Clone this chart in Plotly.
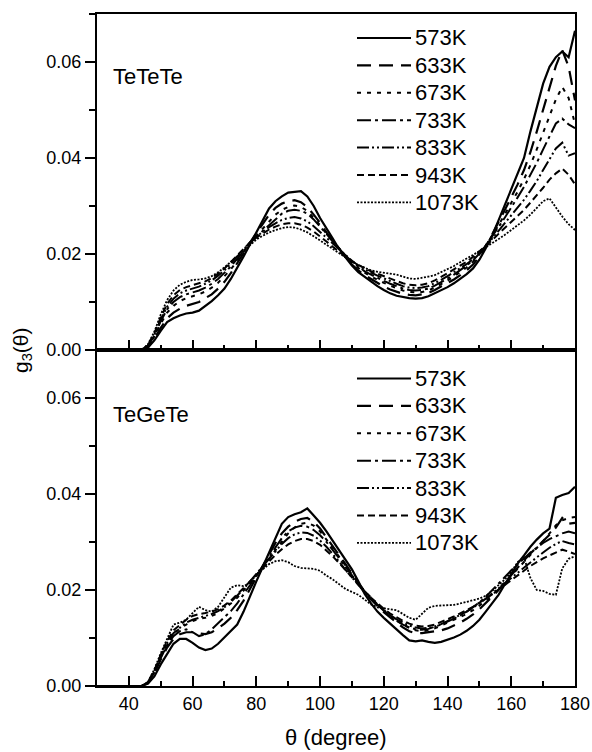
import plotly.graph_objects as go

theta = [30, 44, 46, 48, 50, 52, 54, 56, 58, 60,
         62, 64, 66, 68, 70, 72, 74, 76, 78, 80,
         82, 84, 86, 88, 90, 92, 94, 96, 98, 100,
         102, 104, 106, 108, 110, 112, 114, 116, 118, 120,
         122, 124, 126, 128, 130, 132, 134, 136, 138, 140,
         142, 144, 146, 148, 150, 152, 154, 156, 158, 160,
         162, 164, 166, 168, 170, 172, 174, 176, 178, 180]

temps = ["573K", "633K", "673K", "733K", "833K", "943K", "1073K"]

# ---- TeTeTe (top panel) ----
tetete_573 = [0, 0, 0.0005, 0.002, 0.004, 0.0058, 0.0066, 0.0072, 0.0076, 0.0078,
              0.0082, 0.0092, 0.0102, 0.0114, 0.0128, 0.0148, 0.017, 0.0195, 0.022, 0.0245,
              0.027, 0.0295, 0.031, 0.032, 0.0328, 0.033, 0.0331, 0.032, 0.03, 0.0275,
              0.0252, 0.0232, 0.021, 0.0192, 0.0176, 0.0162, 0.0152, 0.0143, 0.0133, 0.0125,
              0.0118, 0.0113, 0.011, 0.0108, 0.0107, 0.0108, 0.0112, 0.0118, 0.0125, 0.0131,
              0.0139, 0.0148, 0.0158, 0.017, 0.0188, 0.0212, 0.0238, 0.027, 0.0302, 0.0332,
              0.0365, 0.04, 0.0455, 0.0505, 0.0555, 0.059, 0.061, 0.0622, 0.061, 0.0665]
tetete_633 = [0, 0, 0.0006, 0.0024, 0.0046, 0.0066, 0.0078, 0.0086, 0.0092, 0.0096,
              0.01, 0.0108, 0.0116, 0.0128, 0.0142, 0.016, 0.018, 0.0202, 0.0224, 0.0244,
              0.0264, 0.0282, 0.0296, 0.0305, 0.031, 0.0312, 0.0308, 0.0298, 0.0282, 0.0265,
              0.0245, 0.0228, 0.021, 0.0194, 0.0178, 0.0166, 0.0156, 0.0148, 0.014, 0.0132,
              0.0126, 0.0121, 0.0117, 0.0115, 0.0114, 0.0116, 0.0119, 0.0125, 0.0132, 0.0139,
              0.0147, 0.0156, 0.0166, 0.0178, 0.0195, 0.0216, 0.024, 0.0266, 0.0292, 0.0318,
              0.0345, 0.0375, 0.0412, 0.0455, 0.05, 0.055, 0.0592, 0.0625, 0.059, 0.052]
tetete_673 = [0, 0, 0.0008, 0.0028, 0.0055, 0.0078, 0.0092, 0.0102, 0.0108, 0.0112,
              0.0116, 0.0122, 0.013, 0.014, 0.0153, 0.0168, 0.0186, 0.0205, 0.0223, 0.0238,
              0.0252, 0.0268, 0.0282, 0.0292, 0.0298, 0.0301, 0.0298, 0.029, 0.0276, 0.026,
              0.0242, 0.0226, 0.021, 0.0195, 0.0181, 0.017, 0.0161, 0.0153, 0.0146, 0.014,
              0.0134, 0.0129, 0.0124, 0.0121, 0.012, 0.0121, 0.0124, 0.013, 0.0137, 0.0145,
              0.0153, 0.0162, 0.0172, 0.0184, 0.0199, 0.0217, 0.0238, 0.026, 0.0283, 0.0306,
              0.033, 0.0356, 0.0385, 0.0418, 0.0452, 0.0488, 0.0522, 0.0548, 0.0525, 0.047]
tetete_733 = [0, 0, 0.0009, 0.003, 0.006, 0.0085, 0.01, 0.011, 0.0116, 0.012,
              0.0124, 0.013, 0.0138, 0.0148, 0.016, 0.0174, 0.019, 0.0207, 0.0222, 0.0236,
              0.0248, 0.0262, 0.0274, 0.0284, 0.029, 0.0292, 0.029, 0.0284, 0.0272, 0.0258,
              0.0242, 0.0226, 0.0211, 0.0197, 0.0184, 0.0173, 0.0164, 0.0157, 0.015, 0.0144,
              0.0138, 0.0133, 0.0128, 0.0125, 0.0124, 0.0125, 0.0128, 0.0134, 0.0141, 0.0149,
              0.0157, 0.0166, 0.0176, 0.0187, 0.0201, 0.0218, 0.0236, 0.0256, 0.0276, 0.0296,
              0.0318, 0.034, 0.0364, 0.039, 0.0418, 0.0445, 0.0472, 0.0482, 0.047, 0.0462]
tetete_833 = [0, 0, 0.001, 0.0032, 0.0064, 0.009, 0.0107, 0.0118, 0.0124, 0.0128,
              0.0132, 0.0138, 0.0145, 0.0155, 0.0166, 0.018, 0.0195, 0.021, 0.0224, 0.0236,
              0.0246, 0.0256, 0.0264, 0.0271, 0.0275, 0.0277, 0.0274, 0.0268, 0.0258, 0.0246,
              0.0234, 0.0221, 0.0208, 0.0197, 0.0186, 0.0176, 0.0168, 0.0161, 0.0155, 0.0149,
              0.0143, 0.0138, 0.0133, 0.013, 0.0129, 0.013, 0.0133, 0.0139, 0.0146, 0.0154,
              0.0162, 0.017, 0.0179, 0.0189, 0.0202, 0.0217, 0.0232, 0.0248, 0.0264, 0.028,
              0.0296, 0.0313, 0.0332, 0.0352, 0.0375, 0.0398, 0.042, 0.0432, 0.0405, 0.041]
tetete_943 = [0, 0, 0.0011, 0.0035, 0.0068, 0.0096, 0.0114, 0.0125, 0.0131, 0.0135,
              0.0138, 0.0143, 0.015, 0.0159, 0.017, 0.0183, 0.0197, 0.0211, 0.0224, 0.0234,
              0.0243, 0.0251, 0.0257, 0.0262, 0.0264, 0.0264, 0.0261, 0.0255, 0.0247, 0.0237,
              0.0226, 0.0215, 0.0204, 0.0194, 0.0185, 0.0177, 0.017, 0.0164, 0.0159, 0.0154,
              0.0149, 0.0144, 0.0139, 0.0136, 0.0135, 0.0136, 0.0139, 0.0145, 0.0152, 0.016,
              0.0168, 0.0176, 0.0184, 0.0194, 0.0205, 0.0217, 0.0229, 0.0242, 0.0254, 0.0266,
              0.0279, 0.0292, 0.0307, 0.0322, 0.0338, 0.0355, 0.0368, 0.0378, 0.0365, 0.0345]
tetete_1073 = [0, 0, 0.0012, 0.0038, 0.0074, 0.0104, 0.0124, 0.0136, 0.0142, 0.0146,
               0.0147, 0.0149, 0.0154, 0.0162, 0.0172, 0.0184, 0.0196, 0.0208, 0.022, 0.023,
               0.0238, 0.0245, 0.025, 0.0254, 0.0256, 0.0255, 0.0251, 0.0245, 0.0237, 0.0228,
               0.0219, 0.021, 0.0201, 0.0192, 0.0184, 0.0177, 0.0171, 0.0166, 0.0163, 0.0161,
               0.016, 0.0157, 0.0153, 0.0149, 0.0148, 0.015, 0.0153, 0.0156, 0.0162, 0.0168,
               0.0175, 0.0183, 0.019, 0.0198, 0.0206, 0.0214, 0.0222, 0.0231, 0.024, 0.025,
               0.026, 0.027, 0.0282, 0.0296, 0.031, 0.0316, 0.0296, 0.0278, 0.0262, 0.025]

# ---- TeGeTe (bottom panel) ----
tegete_573 = [0, 0, 0.0005, 0.002, 0.0045, 0.0068, 0.0088, 0.0098, 0.0098, 0.009,
              0.008, 0.0075, 0.0078, 0.0088, 0.0102, 0.0114, 0.0128, 0.0155, 0.0188, 0.0218,
              0.0248, 0.0278, 0.0308, 0.0338, 0.0352, 0.0358, 0.0362, 0.037, 0.0355, 0.034,
              0.0322, 0.0302, 0.0283, 0.0262, 0.0243, 0.0218, 0.0192, 0.0172, 0.0155, 0.0142,
              0.0131, 0.0118, 0.0106, 0.0095, 0.0093, 0.0095, 0.0092, 0.009, 0.0092, 0.0096,
              0.0101, 0.0107, 0.0115, 0.0125, 0.0138, 0.0155, 0.0172, 0.019, 0.0212, 0.0235,
              0.0255, 0.0272, 0.029, 0.0305, 0.0318, 0.0328, 0.0392, 0.0398, 0.0402, 0.0415]
tegete_633 = [0, 0, 0.0006, 0.0026, 0.0055, 0.008, 0.0098, 0.0108, 0.0112, 0.0112,
              0.011, 0.0108, 0.0112, 0.012, 0.013, 0.0142, 0.0158, 0.0178, 0.0202, 0.0226,
              0.025, 0.0274, 0.0298, 0.0318, 0.0332, 0.0342, 0.0348, 0.035, 0.0342, 0.0328,
              0.031, 0.0292, 0.0272, 0.0254, 0.0234, 0.0214, 0.0196, 0.018, 0.0166, 0.0154,
              0.0143, 0.0132, 0.0122, 0.0114, 0.011, 0.011, 0.0112, 0.0114, 0.0116, 0.012,
              0.0126, 0.0132, 0.014, 0.0149, 0.016, 0.0172, 0.0186, 0.02, 0.0216, 0.0232,
              0.0248, 0.0262, 0.0276, 0.029, 0.0302, 0.0315, 0.033, 0.035, 0.0338, 0.034]
tegete_673 = [0, 0, 0.0007, 0.003, 0.006, 0.0088, 0.0108, 0.012, 0.0128, 0.0135,
              0.014, 0.0142, 0.0146, 0.0152, 0.0162, 0.0172, 0.0184, 0.0198, 0.0214, 0.023,
              0.0248, 0.0266, 0.0284, 0.0302, 0.0318, 0.033, 0.0338, 0.034, 0.0334, 0.0322,
              0.0306, 0.0288, 0.0269, 0.025, 0.0232, 0.0214, 0.0198, 0.0183, 0.017, 0.0158,
              0.0147, 0.0137, 0.0128, 0.0121, 0.0116, 0.0114, 0.0116, 0.012, 0.0126, 0.0132,
              0.0138, 0.0144, 0.015, 0.0158, 0.0167, 0.0177, 0.0189, 0.0202, 0.0216, 0.023,
              0.0244, 0.0258, 0.0272, 0.0286, 0.0302, 0.0318, 0.0335, 0.0345, 0.035, 0.0352]
tegete_733 = [0, 0, 0.0007, 0.0028, 0.0058, 0.0085, 0.0104, 0.0114, 0.0118, 0.0112,
              0.0104, 0.0108, 0.0118, 0.013, 0.0142, 0.0156, 0.0172, 0.019, 0.021, 0.023,
              0.025, 0.027, 0.029, 0.0308, 0.0322, 0.033, 0.0334, 0.0332, 0.0325, 0.0314,
              0.03, 0.0284, 0.0266, 0.0248, 0.023, 0.0213, 0.0197, 0.0182, 0.0169, 0.0157,
              0.0146, 0.0136, 0.0128, 0.0122, 0.0118, 0.0117, 0.0119, 0.0123, 0.0128, 0.0134,
              0.014, 0.0147, 0.0155, 0.0164, 0.0174, 0.0186, 0.0199, 0.0213, 0.0227, 0.0241,
              0.0254, 0.0267, 0.0278, 0.0288, 0.0298, 0.0306, 0.0312, 0.0318, 0.0322, 0.0318]
tegete_833 = [0, 0, 0.0008, 0.0031, 0.0062, 0.009, 0.011, 0.0122, 0.0132, 0.0138,
              0.0142, 0.0146, 0.015, 0.0156, 0.0164, 0.0175, 0.0188, 0.0202, 0.0218, 0.0234,
              0.025, 0.0266, 0.0282, 0.0296, 0.0308, 0.0316, 0.032, 0.0319, 0.0313, 0.0303,
              0.029, 0.0275, 0.0259, 0.0242, 0.0226, 0.021, 0.0195, 0.0181, 0.0169, 0.0158,
              0.0148, 0.0139, 0.0132, 0.0126, 0.0122, 0.012, 0.0121, 0.0124, 0.0129, 0.0135,
              0.0141, 0.0148, 0.0155, 0.0163, 0.0172, 0.0182, 0.0193, 0.0204, 0.0215, 0.0226,
              0.0237, 0.0248, 0.0258, 0.0268, 0.0278, 0.0288, 0.0296, 0.0302, 0.0298, 0.0295]
tegete_943 = [0, 0, 0.0008, 0.0033, 0.0065, 0.0094, 0.0116, 0.0128, 0.0138, 0.0146,
              0.015, 0.0152, 0.0155, 0.016, 0.0168, 0.0178, 0.019, 0.0204, 0.0218, 0.0232,
              0.0246, 0.026, 0.0273, 0.0285, 0.0295, 0.0302, 0.0306, 0.0306, 0.0302, 0.0294,
              0.0283, 0.027, 0.0256, 0.0241, 0.0226, 0.0211, 0.0197, 0.0184, 0.0172, 0.0161,
              0.0151, 0.0143, 0.0136, 0.013, 0.0126, 0.0124, 0.0125, 0.0128, 0.0133, 0.0139,
              0.0145, 0.0151, 0.0158, 0.0165, 0.0173, 0.0182, 0.0191, 0.0201, 0.0211, 0.0221,
              0.0231, 0.0241, 0.025, 0.0258, 0.0266, 0.0272, 0.0278, 0.0284, 0.028, 0.0275]
tegete_1073 = [0, 0, 0.0008, 0.0035, 0.0068, 0.0098, 0.0128, 0.0132, 0.0138, 0.0152,
               0.0165, 0.0158, 0.0155, 0.0165, 0.0185, 0.0205, 0.021, 0.0208, 0.0215, 0.0232,
               0.0243, 0.0254, 0.026, 0.0262, 0.0258, 0.025, 0.0246, 0.0245, 0.0244, 0.024,
               0.023, 0.0222, 0.0212, 0.0202, 0.0196, 0.019, 0.018, 0.017, 0.0164, 0.0162,
               0.016, 0.0158, 0.015, 0.0142, 0.0138, 0.015, 0.0163, 0.0167, 0.0168, 0.0168,
               0.0169, 0.0172, 0.0175, 0.0178, 0.0182, 0.0188, 0.0198, 0.021, 0.0222, 0.0238,
               0.0258, 0.0268, 0.0225, 0.02, 0.0198, 0.0192, 0.019, 0.0245, 0.0265, 0.027]

tetete = [tetete_573, tetete_633, tetete_673, tetete_733, tetete_833, tetete_943, tetete_1073]
tegete = [tegete_573, tegete_633, tegete_673, tegete_733, tegete_833, tegete_943, tegete_1073]

dashes = ["solid", "14px,8px", "4px,6px", "14px,4px,3px,4px",
          "12px,3px,2px,3px,2px,3px", "7px,4px", "2px,1.5px"]
widths = [2.2, 2.2, 2, 2, 2, 2, 1.8]

W, H = 592, 752
L, R, T, B = 97, 17, 14, 66
pw, ph = W - L - R, H - T - B

fig = go.Figure()
for i, t in enumerate(temps):
    fig.add_trace(go.Scatter(x=theta, y=tetete[i], mode="lines", name=t, showlegend=False,
                             line=dict(color="black", width=widths[i], dash=dashes[i]),
                             xaxis="x2", yaxis="y2"))
    fig.add_trace(go.Scatter(x=theta, y=tegete[i], mode="lines", name=t, showlegend=False,
                             line=dict(color="black", width=widths[i], dash=dashes[i]),
                             xaxis="x", yaxis="y"))

font = "Liberation Sans, Arial, Helvetica, sans-serif"

def px_x(p):
    return (p - L) / pw

def px_y(p):
    return 1 - (p - T) / ph

shapes = []
annotations = []
legend_tops = [38, 378.5]
for start in legend_tops:
    for i, t in enumerate(temps):
        yy = px_y(start + 27.4 * i)
        shapes.append(dict(type="line", xref="paper", yref="paper",
                           x0=px_x(357), x1=px_x(411), y0=yy, y1=yy,
                           line=dict(color="black", width=widths[i], dash=dashes[i])))
        annotations.append(dict(xref="paper", yref="paper", x=px_x(413), y=yy,
                                text=t, showarrow=False, xanchor="left", yanchor="middle",
                                font=dict(family=font, size=22, color="black")))

annotations.append(dict(xref="paper", yref="paper", x=px_x(111), y=px_y(76), text="TeTeTe",
                        showarrow=False, xanchor="left", yanchor="middle",
                        font=dict(family=font, size=22, color="black")))
annotations.append(dict(xref="paper", yref="paper", x=px_x(111), y=px_y(414), text="TeGeTe",
                        showarrow=False, xanchor="left", yanchor="middle",
                        font=dict(family=font, size=22, color="black")))
annotations.append(dict(xref="paper", yref="paper", x=px_x(22), y=0.5, text="g<sub>3</sub>(θ)",
                        showarrow=False, xanchor="center", yanchor="middle", textangle=-90,
                        font=dict(family=font, size=21, color="black")))
annotations.append(dict(xref="paper", yref="paper", x=px_x(336), y=px_y(737), text="θ (degree)",
                        showarrow=False, xanchor="center", yanchor="middle",
                        font=dict(family=font, size=22, color="black")))

xcommon = dict(range=[30, 180], showline=True, linecolor="black", linewidth=2, mirror=True,
               ticks="inside", ticklen=10, tickwidth=1.5, tickcolor="black",
               tick0=0, dtick=20, showgrid=False, zeroline=False, automargin=False,
               minor=dict(ticks="inside", ticklen=5, tickwidth=1.5, tickcolor="black", dtick=10, tick0=0, showgrid=False),
               tickfont=dict(family=font, size=18, color="black"))
ycommon = dict(range=[0, 0.07], showline=True, linecolor="black", linewidth=2, mirror=True,
               ticks="outside", ticklen=10, tickwidth=1.5, tickcolor="black",
               tick0=0, dtick=0.02, tickformat=".2f", showgrid=False, zeroline=False, automargin=False,
               minor=dict(ticks="outside", ticklen=6, tickwidth=1.5, tickcolor="black", dtick=0.01, tick0=0, showgrid=False),
               tickfont=dict(family=font, size=18, color="black"))

fig.update_layout(
    width=W, height=H,
    margin=dict(l=L, r=R, t=T, b=B),
    paper_bgcolor="white", plot_bgcolor="white",
    showlegend=False,
    xaxis=dict(**xcommon, anchor="y", showticklabels=True),
    yaxis=dict(**ycommon, domain=[0, 0.5], anchor="x"),
    xaxis2=dict(**xcommon, anchor="y2", showticklabels=False, matches="x"),
    yaxis2=dict(**ycommon, domain=[0.5, 1], anchor="x2"),
    shapes=shapes,
    annotations=annotations,
)

fig.write_html("out.html")
